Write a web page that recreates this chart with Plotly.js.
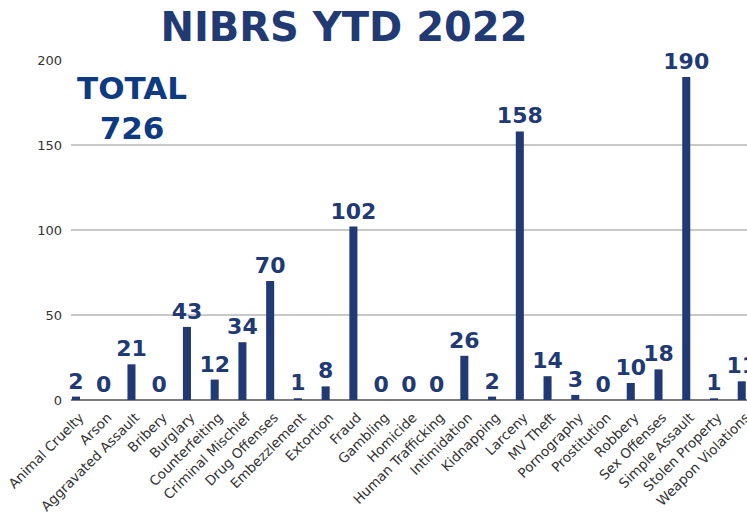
<!DOCTYPE html>
<html>
<head>
<meta charset="utf-8">
<script src="https://cdn.plot.ly/plotly-3.0.1.min.js"></script>
<style>html,body{margin:0;padding:0;background:#fff;}#chart{width:747px;height:516px;}</style>
</head>
<body>
<div id="chart"></div>
<script>
const categories = ["Animal Cruelty","Arson","Aggravated Assault","Bribery","Burglary","Counterfeiting","Criminal Mischief","Drug Offenses","Embezzlement","Extortion","Fraud","Gambling","Homicide","Human Trafficking","Intimidation","Kidnapping","Larceny","MV Theft","Pornography","Prostitution","Robbery","Sex Offenses","Simple Assault","Stolen Property","Weapon Violations"];
const counts = [2,0,21,0,43,12,34,70,1,8,102,0,0,0,26,2,158,14,3,0,10,18,190,1,11];
const yTicks = [0,50,100,150,200];
const total = counts.reduce((a,b)=>a+b,0);

const navy = "#213a73";
const font = "DejaVu Sans, sans-serif";
const trace = {
  type: "bar",
  x: categories,
  y: counts,
  marker: {color: navy},
  width: 0.29,
  text: counts.map(String),
  textposition: "outside",
  constraintext: "none",
  cliponaxis: false,
  textfont: {family: font, size: 22, color: navy, weight: 700},
  hoverinfo: "skip"
};

const layout = {
  width: 747, height: 516,
  margin: {l: 71, r: 0, t: 60, b: 116},
  paper_bgcolor: "#fff", plot_bgcolor: "#fff",
  showlegend: false,
  title: {
    text: "<b>NIBRS YTD 2022</b>",
    font: {family: font, size: 40, color: navy},
    x: 0.4605, xanchor: "center", y: 0.948, yanchor: "middle"
  },
  xaxis: {
    type: "category",
    range: [-0.18, 24.19],
    tickangle: -45,
    tickfont: {family: font, size: 13.5, color: "#333"},
    showgrid: false,
    showline: false,
    ticks: "",
    ticklabelstandoff: 6,
    ticklabelshift: 4,
    fixedrange: true
  },
  yaxis: {
    range: [0, 200],
    tickvals: yTicks,
    ticktext: yTicks.map(String),
    tickfont: {family: font, size: 13, color: "#333"},
    showgrid: true,
    gridcolor: "#c8c8c8",
    gridwidth: 2,
    zeroline: true,
    zerolinecolor: "#7a7a7a",
    zerolinewidth: 2,
    showline: false,
    ticks: "",
    ticklabelstandoff: 8,
    fixedrange: true
  },
  annotations: [{
    text: "<b>TOTAL<br>" + total + "</b>",
    xref: "paper", yref: "paper",
    x: 0.09, y: 0.859, xanchor: "center", yanchor: "middle",
    showarrow: false,
    align: "center",
    font: {family: font, size: 31, color: "#0d3a80"}
  }]
};

Plotly.newPlot("chart", [trace], layout, {displayModeBar: false, staticPlot: true});
</script>
</body>
</html>
